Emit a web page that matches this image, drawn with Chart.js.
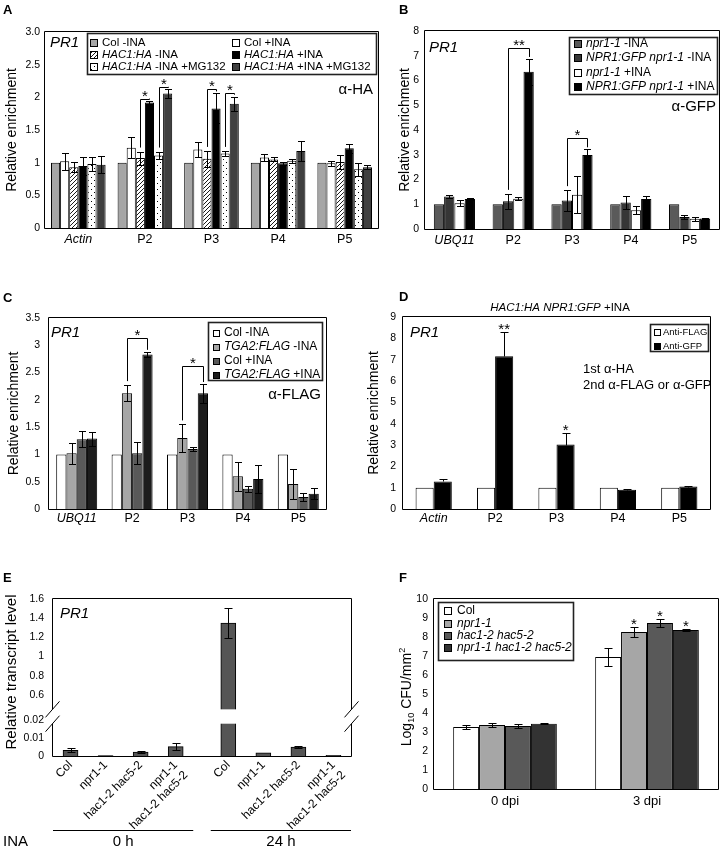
<!DOCTYPE html>
<html lang="en">
<head>
<meta charset="UTF-8">
<title>PR1 ChIP and transcript panels</title>
<script src="https://cdn.jsdelivr.net/npm/chart.js"></script>
<style>
  body { margin: 0; background: #fff; }
  #fig { position: relative; width: 721px; height: 847px; overflow: hidden; }
  #fig canvas { position: absolute; z-index: 1; }
  .tag { position: absolute; z-index: 2; font: bold 13px "Liberation Sans", Arial, sans-serif; line-height: 15px; }
</style>
</head>
<body>
<div id="fig">
  <div class="tag" style="left:3px;top:2px">A</div>
  <div class="tag" style="left:399px;top:2px">B</div>
  <div class="tag" style="left:3px;top:290px">C</div>
  <div class="tag" style="left:399px;top:289px">D</div>
  <div class="tag" style="left:3px;top:570px">E</div>
  <div class="tag" style="left:399px;top:570px">F</div>
</div>
<script>
const FONT = '"Liberation Sans", Arial, sans-serif';
Chart.defaults.font.family = FONT;
Chart.defaults.color = '#000';

// ---- values ----
const sitesActin = ['Actin', 'P2', 'P3', 'P4', 'P5'];
const sitesUbq = ['UBQ11', 'P2', 'P3', 'P4', 'P5'];

// A  (alpha-HA ChIP)
const aNames = ['Col -INA', 'Col +INA', '_HAC1:HA_ -INA', '_HAC1:HA_ +INA', '_HAC1:HA_ -INA +MG132', '_HAC1:HA_ +INA +MG132'];
const aColMinus = [1, 1, 1, 1, 1];
const aColPlus = [1.02, 1.23, 1.2, 1.08, 0.99];
const aColPlusErr = [0.13, 0.16, 0.11, 0.06, 0.04];
const aHacMinus = [0.93, 1.07, 1.06, 1.05, 1.01];
const aHacMinusErr = [0.08, 0.1, 0.12, 0.03, 0.1];
const aHacPlus = [0.95, 1.92, 1.83, 0.99, 1.22];
const aHacPlusErr = [0.14, 0.03, 0.23, 0.02, 0.07];
const aMgMinus = [0.98, 1.11, 1.14, 1.03, 0.9];
const aMgMinusErr = [0.1, 0.06, 0.04, 0.03, 0.1];
const aMgPlus = [0.97, 2.06, 1.9, 1.18, 0.93];
const aMgPlusErr = [0.13, 0.07, 0.11, 0.15, 0.03];
const aTickLabels = ['0', '0.5', '1', '1.5', '2', '2.5', '3.0'];

// B  (alpha-GFP ChIP)
const bNames = ['_npr1-1_ -INA', '_NPR1:GFP npr1-1_ -INA', '_npr1-1_ +INA', '_NPR1:GFP npr1-1_ +INA'];
const bNprMinus = [1, 1, 1, 1, 1];
const bGfpMinus = [1.31, 1.12, 1.15, 1.07, 0.48];
const bGfpMinusErr = [0.06, 0.3, 0.42, 0.27, 0.08];
const bNprPlus = [1.04, 1.22, 1.38, 0.76, 0.41];
const bNprPlusErr = [0.12, 0.06, 0.75, 0.15, 0.07];
const bGfpPlus = [1.21, 6.35, 2.99, 1.21, 0.42];
const bGfpPlusErr = [0.03, 0.52, 0.23, 0.12, 0.02];

// C  (alpha-FLAG ChIP)
const cNames = ['Col -INA', '_TGA2:FLAG_ -INA', 'Col +INA', '_TGA2:FLAG_ +INA'];
const cColMinus = [1, 1, 1, 1, 1];
const cTgaMinus = [1.02, 2.12, 1.3, 0.6, 0.46];
const cTgaMinusErr = [0.19, 0.15, 0.25, 0.27, 0.28];
const cColPlus = [1.28, 1.02, 1.1, 0.37, 0.22];
const cColPlusErr = [0.15, 0.2, 0.03, 0.05, 0.07];
const cTgaPlus = [1.29, 2.83, 2.12, 0.55, 0.28];
const cTgaPlusErr = [0.13, 0.05, 0.17, 0.25, 0.1];

// D  (sequential ChIP)
const dNames = ['Anti-FLAG', 'Anti-GFP'];
const dFlag = [1, 1, 1, 1, 1];
const dGfp = [1.29, 7.16, 3.02, 0.9, 1.05];
const dGfpErr = [0.11, 1.13, 0.52, 0.03, 0.05];

// E  (PR1 transcript, broken axis)
const eGenotypes = ['Col', 'npr1-1', 'hac1-2 hac5-2', ['npr1-1', 'hac1-2 hac5-2'],
                    'Col', 'npr1-1', 'hac1-2 hac5-2', ['npr1-1', 'hac1-2 hac5-2']];
const eTimes = ['0 h', '24 h'];
const eLevel = [0.0032, 0.0002, 0.0022, 0.0052, 1.35, 0.0018, 0.005, 0.0004];
const eLevelErr = [0.0012, 0, 0.0008, 0.0018, 0.155, 0, 0.0006, 0];
const eTicks = [0, 0.01, 0.02, 0.6, 0.8, 1, 1.2, 1.4, 1.6];

// F  (bacterial growth)
const fDays = ['0 dpi', '3 dpi'];
const fNames = ['Col', '_npr1-1_', '_hac1-2 hac5-2_', '_npr1-1 hac1-2 hac5-2_'];
const fCol = [3.26, 6.95], fColErr = [0.1, 0.46];
const fNpr = [3.37, 8.26], fNprErr = [0.12, 0.26];
const fHac = [3.32, 8.74], fHacErr = [0.12, 0.2];
const fTriple = [3.44, 8.37], fTripleErr = [0.04, 0.06];

// ---- helpers ----
const fig = document.getElementById('fig');
const plain = s => s.replace(/[_~^]/g, '');
const noGrid = { display: false, drawTicks: false };

function makePattern(kind) {
  const c = document.createElement('canvas');
  const n = kind === 'hatch' ? 4 : 6;
  c.width = c.height = n;
  const g = c.getContext('2d');
  g.fillStyle = '#fff'; g.fillRect(0, 0, n, n);
  g.fillStyle = '#000'; g.strokeStyle = '#000'; g.lineWidth = 0.9;
  if (kind === 'hatch') {
    g.beginPath();
    g.moveTo(-1, n + 1); g.lineTo(n + 1, -1);
    g.moveTo(-1, 1); g.lineTo(1, -1);
    g.moveTo(n - 1, n + 1); g.lineTo(n + 1, n - 1);
    g.stroke();
  } else {
    g.fillRect(1, 1, 1, 1); g.fillRect(4, 4, 1, 1);
  }
  return g.createPattern(c, 'repeat');
}
const hatch = makePattern('hatch'), dots = makePattern('dots');

// '_' toggles italic, '~' subscript, '^' superscript
function runsOf(s) {
  const out = []; let it = false, sub = false, sup = false, buf = '';
  const flush = () => { if (buf) out.push({ t: buf, it, sub, sup }); buf = ''; };
  for (const ch of s) {
    if (ch === '_') { flush(); it = !it; }
    else if (ch === '~') { flush(); sub = !sub; }
    else if (ch === '^') { flush(); sup = !sup; }
    else buf += ch;
  }
  flush();
  return out;
}
function drawRich(ctx, s, x, y, size, align, rot) {
  const runs = runsOf(s);
  const fontOf = r => (r.it ? 'italic ' : '') + (r.sub || r.sup ? size * 0.65 : size) + 'px ' + FONT;
  let w = 0;
  runs.forEach(r => { ctx.font = fontOf(r); r.w = ctx.measureText(r.t).width; w += r.w; });
  ctx.save();
  ctx.translate(x, y);
  if (rot) ctx.rotate(rot);
  let cx = align === 'center' ? -w / 2 : align === 'right' ? -w : 0;
  ctx.textAlign = 'left'; ctx.textBaseline = 'middle'; ctx.fillStyle = '#000';
  runs.forEach(r => {
    ctx.font = fontOf(r);
    ctx.fillText(r.t, cx, r.sub ? size * 0.3 : r.sup ? -size * 0.3 : 0);
    cx += r.w;
  });
  ctx.restore();
}

function canvasAt(p) {
  const cv = document.createElement('canvas');
  cv.width = p.w; cv.height = p.h;
  cv.style.left = p.x + 'px'; cv.style.top = p.y + 'px';
  fig.appendChild(cv);
  cv.getContext('2d', { willReadFrequently: true });   // plain software canvas
  return cv;
}

// make sure the top y tick label made it onto the canvas
function checkTopLabel(chart) {
  const ys = chart.scales.y, items = ys.getLabelItems(), top = items[items.length - 1];
  if (!top) return;
  const tx = Math.round(top.options.translation[0]), ty = Math.round(top.options.translation[1]);
  const d = chart.ctx.getImageData(Math.max(0, tx - 16), Math.max(0, ty - 4), 16, 8).data;
  let ink = 0;
  for (let k = 0; k < d.length; k += 4) if (d[k + 3] > 100 && d[k] < 128) ink++;
  if (ink) return;
  const ctx = chart.ctx;
  ctx.save();
  ctx.font = '10.5px ' + FONT; ctx.fillStyle = '#000';
  ctx.textAlign = 'right'; ctx.textBaseline = 'middle';
  ctx.fillText(top.label, tx, ty);
  ctx.restore();
}

// error bars, brackets, stars, frame, legend and loose text
function decor(p) {
  const tf = p.tf || (v => v);
  const errTop = (i, j) => p.vals[i][j] + (p.errs[i] ? p.errs[i][j] : 0);
  return {
    id: 'decor',
    afterDatasetsDraw(chart) {
      const ctx = chart.ctx, ys = chart.scales.y;
      ctx.save();
      if (p.gap) {
        const g1 = ys.getPixelForValue(p.gap[1]), g0 = ys.getPixelForValue(p.gap[0]);
        ctx.fillStyle = '#fff';
        p.vals.forEach((vs, i) => chart.getDatasetMeta(i).data.forEach((bar, j) => {
          if (tf(vs[j]) > p.gap[1]) ctx.fillRect(bar.x - bar.width / 2 - 1, g1, bar.width + 2, g0 - g1);
        }));
      }
      ctx.strokeStyle = '#000'; ctx.lineWidth = 1;
      p.errs.forEach((es, i) => {
        if (!es) return;
        chart.getDatasetMeta(i).data.forEach((bar, j) => {
          if (!es[j]) return;
          const v = p.vals[i][j], x = Math.round(bar.x) + 0.5;
          const y1 = Math.round(ys.getPixelForValue(tf(v + es[j]))) + 0.5;
          const y0 = Math.round(ys.getPixelForValue(tf(p.upperOnly ? v : v - es[j]))) + 0.5;
          ctx.beginPath();
          ctx.moveTo(x, y1); ctx.lineTo(x, y0);
          ctx.moveTo(x - p.cap, y1); ctx.lineTo(x + p.cap, y1);
          if (!p.upperOnly) { ctx.moveTo(x - p.cap, y0); ctx.lineTo(x + p.cap, y0); }
          ctx.stroke();
        });
      });
      ctx.fillStyle = '#000'; ctx.textAlign = 'center'; ctx.textBaseline = 'alphabetic';
      ctx.font = '15px ' + FONT;
      (p.brackets || []).forEach(k => {
        const xa = Math.round(chart.getDatasetMeta(k.from).data[k.cat].x) + 0.5;
        const xb = Math.round(chart.getDatasetMeta(k.to).data[k.cat].x) + 0.5;
        const yt = Math.round(ys.getPixelForValue(k.top)) + 0.5;
        ctx.beginPath();
        ctx.moveTo(xa, ys.getPixelForValue(errTop(k.from, k.cat)) - 4);
        ctx.lineTo(xa, yt); ctx.lineTo(xb, yt);
        ctx.lineTo(xb, ys.getPixelForValue(errTop(k.to, k.cat)) - 2);
        ctx.stroke();
        ctx.fillText(k.label, (xa + xb) / 2, yt + 1);
      });
      (p.stars || []).forEach(k => {
        const bar = chart.getDatasetMeta(k.ds).data[k.cat];
        ctx.fillText(k.label, bar.x, ys.getPixelForValue(tf(errTop(k.ds, k.cat))) + 2);
      });
      ctx.restore();
    },
    afterDraw(chart) {
      const ctx = chart.ctx, a = chart.chartArea, ys = chart.scales.y;
      ctx.save();
      const L = Math.round(a.left) - 0.5, R = Math.round(a.right) + 0.5;
      const T = Math.round(a.top) - 0.5, B = Math.round(a.bottom) + 0.5;
      ctx.strokeStyle = '#000'; ctx.lineWidth = 1;
      ctx.beginPath();
      if (p.gap) {
        const g1 = ys.getPixelForValue(p.gap[1]), g0 = ys.getPixelForValue(p.gap[0]);
        ctx.moveTo(L, g1); ctx.lineTo(L, T); ctx.lineTo(R, T); ctx.lineTo(R, g1);
        ctx.moveTo(R, g0); ctx.lineTo(R, B); ctx.lineTo(L, B); ctx.lineTo(L, g0);
        [L, R].forEach(X => [g1, g0].forEach(Y => { ctx.moveTo(X - 7, Y + 8); ctx.lineTo(X + 7, Y - 8); }));
      } else {
        ctx.rect(L, T, R - L, B - T);
      }
      ctx.stroke();

      const g = p.legend;
      if (g) {
        const x0 = Math.round(a.left + g.x) + 0.5, y0 = Math.round(a.top + g.y) + 0.5;
        ctx.fillStyle = '#fff'; ctx.fillRect(x0, y0, g.w, g.h);
        ctx.lineWidth = 1.6; ctx.strokeStyle = '#222'; ctx.strokeRect(x0, y0, g.w, g.h);
        ctx.lineWidth = 1;
        const cols = g.cols || 1;
        p.names.forEach((n, i) => {
          const sx = Math.round(x0 + g.pad + (i % cols) * (g.colW || 0));
          const cy = Math.round(y0 + g.first + Math.floor(i / cols) * g.rowH);
          const top = Math.round(cy - g.sw / 2);
          ctx.fillStyle = p.colors[i]; ctx.fillRect(sx, top, g.sw, g.sw);
          ctx.strokeStyle = '#000'; ctx.strokeRect(sx + 0.5, top + 0.5, g.sw - 1, g.sw - 1);
          drawRich(ctx, n, sx + g.sw + g.gap, cy, g.size, 'left');
        });
      }
      (p.texts || []).forEach(t => drawRich(ctx, t.s, t.x - p.x, t.y - p.y, t.size, t.align || 'left', t.rot));
      if (p.extra) p.extra(chart, ctx);
      ctx.restore();
      checkTopLabel(chart);
    }
  };
}

function catPanel(p) {
  const b = p.box;
  return new Chart(canvasAt(p), {
    type: 'bar',
    data: {
      labels: p.labels,
      datasets: p.vals.map((v, i) => ({
        label: plain(p.names[i]), data: v, backgroundColor: p.colors[i],
        borderColor: '#000', borderWidth: 1, categoryPercentage: p.group, barPercentage: 1
      }))
    },
    options: {
      responsive: false, animation: false, devicePixelRatio: 1,
      layout: { padding: { left: 0, top: b.t - p.y, right: p.x + p.w - b.r, bottom: 0 } },
      plugins: { legend: { display: false }, tooltip: { enabled: false } },
      scales: {
        x: {
          grid: noGrid, border: { display: false },
          ticks: {
            padding: p.xPad, maxRotation: 0, autoSkip: false,
            font: c => ({ size: p.xSize, style: p.italicFirst && c.index === 0 ? 'italic' : 'normal' })
          },
          afterFit: s => { s.height = p.y + p.h - b.b; }
        },
        y: {
          min: 0, max: p.ymax, grid: noGrid, border: { display: false },
          afterBuildTicks: s => {
            const t = [];
            for (let v = 0; v <= p.ymax + 1e-9; v += p.step) t.push({ value: +v.toFixed(3) });
            s.ticks = t;
          },
          ticks: {
            autoSkip: false, padding: p.yPad, font: { size: 10.5 },
            callback: (v, i) => (p.yLabels ? p.yLabels[i] : String(+v.toFixed(2)))
          },
          title: p.yTitle
            ? { display: true, text: p.yTitle, font: { size: 14 }, padding: { top: p.titlePad || 4, bottom: 0 } }
            : { display: false },
          afterFit: s => { s.width = b.l - p.x; }
        }
      }
    },
    plugins: [decor(p)]
  });
}

// ---- panel C ----
catPanel({
  x: 0, y: 300, w: 360, h: 235, box: { l: 49, t: 318, r: 326, b: 509 },
  labels: sitesUbq, italicFirst: true, xSize: 12.5, xPad: 2,
  ymax: 3.5, step: 0.5, yPad: 9, yTitle: 'Relative enrichment', titlePad: 6,
  names: cNames, group: 0.74, cap: 3.5,
  colors: ['#ffffff', '#a6a6a6', '#595959', '#1c1c1c'],
  vals: [cColMinus, cTgaMinus, cColPlus, cTgaPlus],
  errs: [null, cTgaMinusErr, cColPlusErr, cTgaPlusErr],
  brackets: [
    { cat: 1, from: 1, to: 3, top: 3.13, label: '*' },
    { cat: 2, from: 1, to: 3, top: 2.62, label: '*' }
  ],
  legend: { x: 159, y: 4, w: 114, h: 58, pad: 4, sw: 7, gap: 4, first: 10, rowH: 14.2, size: 12 },
  texts: [
    { s: '_PR1_', x: 51, y: 333, size: 15 },
    { s: 'α-FLAG', x: 321, y: 395, size: 15, align: 'right' }
  ]
});

// ---- panel D ----
catPanel({
  x: 362, y: 300, w: 359, h: 235, box: { l: 403, t: 317, r: 710, b: 509 },
  labels: sitesActin, italicFirst: true, xSize: 12.5, xPad: 2,
  ymax: 9, step: 1, yPad: 7, yTitle: 'Relative enrichment',
  names: dNames, group: 0.59, cap: 4, upperOnly: true,
  colors: ['#ffffff', '#000000'],
  vals: [dFlag, dGfp],
  errs: [null, dGfpErr],
  stars: [{ ds: 1, cat: 1, label: '**' }, { ds: 1, cat: 2, label: '*' }],
  legend: { x: 247, y: 7, w: 58, h: 27, pad: 3, sw: 7, gap: 2, first: 7, rowH: 14, size: 9.5 },
  texts: [
    { s: '_HAC1:HA NPR1:GFP_ +INA', x: 560, y: 308, size: 11.5, align: 'center' },
    { s: '_PR1_', x: 410, y: 333, size: 15 },
    { s: '1st α-HA', x: 583, y: 369, size: 13 },
    { s: '2nd α-FLAG or α-GFP', x: 583, y: 385, size: 13 }
  ]
});

// ---- panel E (broken y axis, two time points) ----
const eSlot = i => i + 0.5 + (i >= 4 ? 0.5 : 0);          // half-slot gap between 0 h and 24 h
const eBreak = v => (v <= 0.02 ? v * 100 : 3.4 + (v - 0.6) * 5.35);
const pE = {
  x: 0, y: 555, w: 360, h: 292, box: { l: 53, t: 599, r: 351, b: 756 },
  tf: eBreak, gap: [1.8, 2.6], cap: 4,
  vals: [eLevel], errs: [eLevelErr],
  texts: [
    { s: 'Relative transcript level', x: 12, y: 672, size: 15, align: 'center', rot: -Math.PI / 2 },
    { s: '_PR1_', x: 60, y: 614, size: 15 },
    { s: 'INA', x: 3, y: 842, size: 15 }
  ],
  extra(chart, ctx) {
    const xs = chart.scales.x;
    ctx.strokeStyle = '#000'; ctx.lineWidth = 1;
    eTimes.forEach((t, g) => {
      const x0 = xs.getPixelForValue(eSlot(g * 4) - 0.5), x1 = xs.getPixelForValue(eSlot(g * 4 + 3) + 0.5);
      ctx.beginPath(); ctx.moveTo(x0, 830.5 - pE.y); ctx.lineTo(x1, 830.5 - pE.y); ctx.stroke();
      drawRich(ctx, t, (x0 + x1) / 2, 842 - pE.y, 15, 'center');
    });
  }
};
new Chart(canvasAt(pE), {
  type: 'bar',
  data: {
    datasets: [{
      data: eLevel.map((v, i) => ({ x: eSlot(i), y: eBreak(v) })),
      backgroundColor: '#555555', borderColor: '#000', borderWidth: 1, barThickness: 15
    }]
  },
  options: {
    responsive: false, animation: false, devicePixelRatio: 1,
    layout: { padding: { left: 0, top: pE.box.t - pE.y, right: pE.x + pE.w - pE.box.r, bottom: 0 } },
    plugins: { legend: { display: false }, tooltip: { enabled: false } },
    scales: {
      x: {
        type: 'linear', min: 0, max: 8.5, offset: false,
        grid: noGrid, border: { display: false },
        afterBuildTicks: s => { s.ticks = eGenotypes.map((g, i) => ({ value: eSlot(i) })); },
        ticks: { autoSkip: false, minRotation: 45, maxRotation: 45, padding: 2, font: { size: 12 },
                 callback: (v, i) => eGenotypes[i] },
        afterFit: s => { s.height = pE.y + pE.h - pE.box.b; }
      },
      y: {
        min: 0, max: eBreak(1.6),
        grid: noGrid, border: { display: false },
        afterBuildTicks: s => { s.ticks = eTicks.map(v => ({ value: eBreak(v) })); },
        ticks: { autoSkip: false, padding: 9, font: { size: 10.5 }, callback: (v, i) => String(eTicks[i]) },
        afterFit: s => { s.width = pE.box.l - pE.x; }
      }
    }
  },
  plugins: [decor(pE)]
});

// ---- panel F ----
catPanel({
  x: 380, y: 580, w: 341, h: 240, box: { l: 434, t: 599, r: 718, b: 789 },
  labels: fDays, xSize: 13, xPad: 5,
  ymax: 10, step: 1, yPad: 6,
  names: fNames, group: 0.73, cap: 4,
  colors: ['#ffffff', '#a6a6a6', '#595959', '#333333'],
  vals: [fCol, fNpr, fHac, fTriple],
  errs: [fColErr, fNprErr, fHacErr, fTripleErr],
  stars: [{ ds: 1, cat: 1, label: '*' }, { ds: 2, cat: 1, label: '*' }, { ds: 3, cat: 1, label: '*' }],
  legend: { x: 4, y: 3, w: 135, h: 58, pad: 5, sw: 8, gap: 5, first: 8.7, rowH: 12.3, size: 12 },
  texts: [
    { s: 'Log~10~ CFU/mm^2^', x: 407, y: 697, size: 14, align: 'center', rot: -Math.PI / 2 }
  ]
});

// ---- panel A ----
catPanel({
  x: 0, y: 8, w: 385, h: 247, box: { l: 45, t: 32, r: 378, b: 228 },
  labels: sitesActin, italicFirst: true, xSize: 12.5, xPad: 4,
  ymax: 3, step: 0.5, yPad: 5, yLabels: aTickLabels, yTitle: 'Relative enrichment',
  names: aNames, group: 0.82, cap: 3.5,
  colors: ['#a6a6a6', '#ffffff', hatch, '#000000', dots, '#404040'],
  vals: [aColMinus, aColPlus, aHacMinus, aHacPlus, aMgMinus, aMgPlus],
  errs: [null, aColPlusErr, aHacMinusErr, aHacPlusErr, aMgMinusErr, aMgPlusErr],
  brackets: [
    { cat: 1, from: 2, to: 3, top: 1.97, label: '*' },
    { cat: 1, from: 4, to: 5, top: 2.16, label: '*' },
    { cat: 2, from: 2, to: 3, top: 2.12, label: '*' },
    { cat: 2, from: 4, to: 5, top: 2.06, label: '*' }
  ],
  legend: { x: 42, y: 1, w: 289, h: 41, cols: 2, colW: 142, pad: 2, sw: 8, gap: 4, first: 9.5, rowH: 12, size: 11.5 },
  texts: [
    { s: '_PR1_', x: 50, y: 43, size: 15 },
    { s: 'α-HA', x: 373, y: 90, size: 15, align: 'right' }
  ]
});

// ---- panel B ----
catPanel({
  x: 393, y: 8, w: 328, h: 247, box: { l: 425, t: 31, r: 719, b: 229 },
  labels: sitesUbq, italicFirst: true, xSize: 12.5, xPad: 4,
  ymax: 8, step: 1, yPad: 6, yTitle: 'Relative enrichment',
  names: bNames, group: 0.7, cap: 3.5,
  colors: ['#5a5a5a', '#363636', '#ffffff', '#000000'],
  vals: [bNprMinus, bGfpMinus, bNprPlus, bGfpPlus],
  errs: [null, bGfpMinusErr, bNprPlusErr, bGfpPlusErr],
  brackets: [
    { cat: 1, from: 1, to: 3, top: 7.3, label: '**' },
    { cat: 2, from: 1, to: 3, top: 3.68, label: '*' }
  ],
  legend: { x: 144, y: 6, w: 148, h: 57, pad: 4, sw: 8, gap: 4, first: 6.5, rowH: 14.3, size: 12 },
  texts: [
    { s: '_PR1_', x: 429, y: 47.5, size: 15 },
    { s: 'α-GFP', x: 716, y: 107, size: 15, align: 'right' }
  ]
});
</script>
</body>
</html>
